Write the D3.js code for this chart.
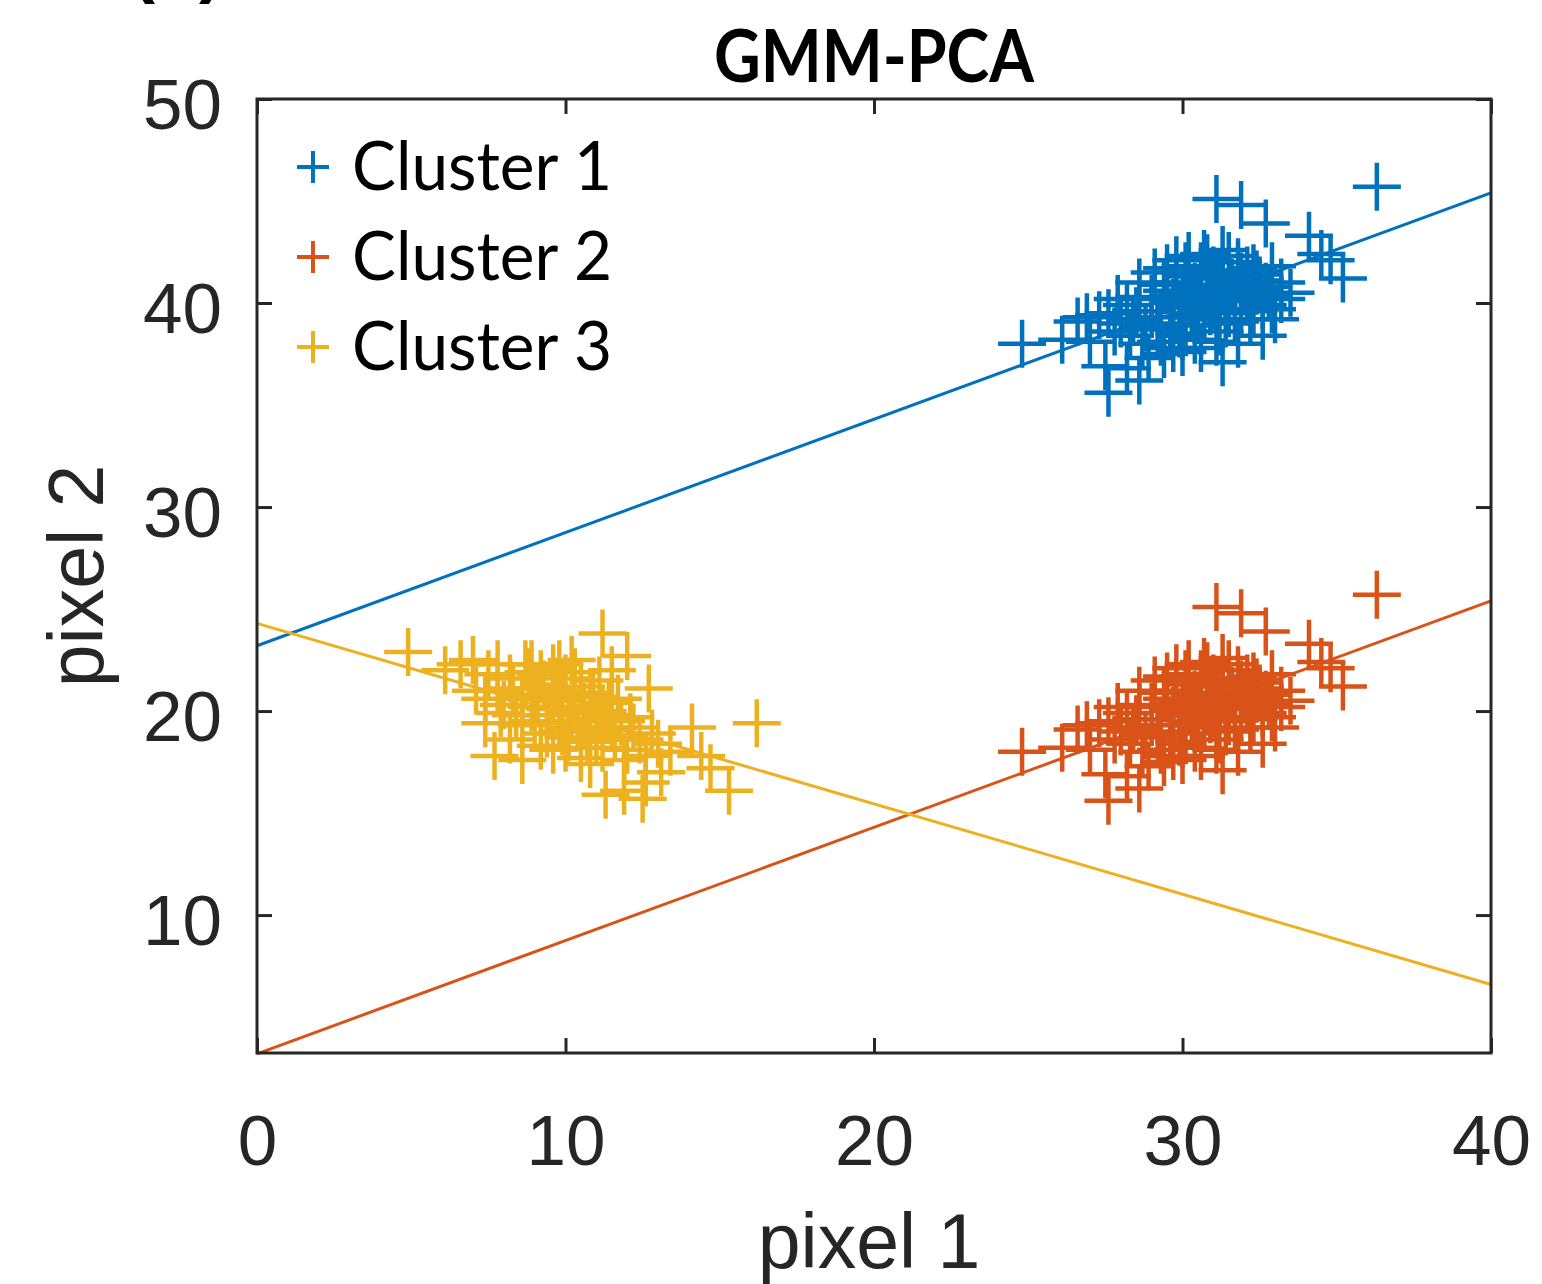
<!DOCTYPE html>
<html>
<head>
<meta charset="utf-8">
<script src="https://cdn.jsdelivr.net/npm/d3@7"></script>
<style>
  body { margin: 0; background: #fff; }
  svg { display: block; }
</style>
</head>
<body>
<svg></svg>
<script>
const w = 1542
const h = 1284
const svg = d3.select("svg")
svg.attr('width', w).attr('height', h)

// data
const seriesNames = ['Cluster 1', 'Cluster 2', 'Cluster 3']
const seriesColors = ['#0072BD', '#D95319', '#EDB120']
const xTicks = [0, 10, 20, 30, 40]
const yTicks = [10, 20, 30, 40, 50]

const cluster1 = [
    [24.8, 38.0], [26.1, 38.2], [26.6, 39.1], [26.9, 39.3], [27.0, 38.1], [27.6, 39.5], [27.6, 35.6], [27.9, 40.2],
    [28.2, 36.8], [28.6, 41.0], [28.6, 36.2], [29.5, 41.7], [29.7, 37.8], [29.8, 42.1], [30.0, 38.4], [30.2, 41.5],
    [30.6, 37.8], [30.7, 42.4], [31.1, 45.1], [31.3, 42.6], [31.3, 37.1], [31.9, 44.8], [31.8, 38.0], [32.3, 41.7],
    [32.6, 38.4], [32.7, 43.9], [32.9, 39.7], [33.2, 40.2], [32.7, 40.8], [32.4, 41.4], [34.1, 43.3], [34.5, 42.4],
    [34.8, 42.1], [35.2, 41.2], [36.3, 45.7], [27.5, 36.9],
    [28.0, 39.0], [28.3, 38.4], [28.5, 39.6], [28.8, 38.8], [29.0, 40.2], [29.2, 39.3], [29.3, 38.1], [29.5, 40.6],
    [29.6, 39.0], [29.8, 41.0], [29.9, 39.8], [30.0, 40.4], [30.1, 38.9], [30.2, 41.3], [30.3, 39.5], [30.4, 40.8],
    [30.5, 40.0], [30.6, 41.8], [30.7, 39.2], [30.8, 40.5], [30.9, 41.2], [31.0, 39.9], [31.1, 40.7], [31.2, 38.6],
    [31.3, 41.5], [31.4, 40.2], [31.5, 39.5], [31.6, 41.0], [31.7, 40.4], [31.8, 42.0], [31.9, 39.7], [32.0, 40.9],
    [32.1, 41.6], [32.2, 39.2], [32.4, 40.6], [32.5, 41.1], [32.6, 39.9], [28.6, 40.3], [29.1, 41.5], [27.8, 38.6],
    [28.2, 39.9], [30.0, 37.6], [30.8, 42.2], [31.5, 42.3], [29.4, 37.5], [33.5, 40.5], [33.2, 41.0], [27.3, 39.4],
    [28.9, 37.3], [32.9, 41.8],
    [29.0, 39.6], [29.4, 40.9], [29.7, 40.0], [30.1, 41.8], [30.3, 40.2], [30.5, 39.3], [30.6, 40.9], [30.9, 39.6],
    [31.0, 41.6], [31.2, 40.1], [31.4, 39.0], [31.6, 40.6], [31.9, 41.3], [32.1, 40.3], [32.3, 39.6], [29.9, 38.5],
    [30.4, 38.2], [31.1, 38.1], [28.4, 39.2], [28.7, 38.0], [29.2, 38.7], [32.8, 40.4], [33.0, 39.2], [31.7, 39.1],
    [30.2, 42.3]
]

const cluster2 = [
    [24.8, 18.0], [26.1, 18.2], [26.6, 19.1], [26.9, 19.3], [27.0, 18.1], [27.6, 19.5], [27.6, 15.6], [27.9, 20.2],
    [28.2, 16.8], [28.6, 21.0], [28.6, 16.2], [29.5, 21.7], [29.7, 17.8], [29.8, 22.1], [30.0, 18.4], [30.2, 21.5],
    [30.6, 17.8], [30.7, 22.4], [31.1, 25.1], [31.3, 22.6], [31.3, 17.1], [31.9, 24.8], [31.8, 18.0], [32.3, 21.7],
    [32.6, 18.4], [32.7, 23.9], [32.9, 19.7], [33.2, 20.2], [32.7, 20.8], [32.4, 21.4], [34.1, 23.3], [34.5, 22.4],
    [34.8, 22.1], [35.2, 21.2], [36.3, 25.7], [27.5, 16.9],
    [28.0, 19.0], [28.3, 18.4], [28.5, 19.6], [28.8, 18.8], [29.0, 20.2], [29.2, 19.3], [29.3, 18.1], [29.5, 20.6],
    [29.6, 19.0], [29.8, 21.0], [29.9, 19.8], [30.0, 20.4], [30.1, 18.9], [30.2, 21.3], [30.3, 19.5], [30.4, 20.8],
    [30.5, 20.0], [30.6, 21.8], [30.7, 19.2], [30.8, 20.5], [30.9, 21.2], [31.0, 19.9], [31.1, 20.7], [31.2, 18.6],
    [31.3, 21.5], [31.4, 20.2], [31.5, 19.5], [31.6, 21.0], [31.7, 20.4], [31.8, 22.0], [31.9, 19.7], [32.0, 20.9],
    [32.1, 21.6], [32.2, 19.2], [32.4, 20.6], [32.5, 21.1], [32.6, 19.9], [28.6, 20.3], [29.1, 21.5], [27.8, 18.6],
    [28.2, 19.9], [30.0, 17.6], [30.8, 22.2], [31.5, 22.3], [29.4, 17.5], [33.5, 20.5], [33.2, 21.0], [27.3, 19.4],
    [28.9, 17.3], [32.9, 21.8],
    [29.0, 19.6], [29.4, 20.9], [29.7, 20.0], [30.1, 21.8], [30.3, 20.2], [30.5, 19.3], [30.6, 20.9], [30.9, 19.6],
    [31.0, 21.6], [31.2, 20.1], [31.4, 19.0], [31.6, 20.6], [31.9, 21.3], [32.1, 20.3], [32.3, 19.6], [29.9, 18.5],
    [30.4, 18.2], [31.1, 18.1], [28.4, 19.2], [28.7, 18.0], [29.2, 18.7], [32.8, 20.4], [33.0, 19.2], [31.7, 19.1],
    [30.2, 22.3]
]

const cluster3 = [
    [4.9, 22.9], [6.1, 22.0], [6.6, 22.3], [7.0, 22.5], [7.5, 21.8], [7.8, 22.3], [8.7, 22.3], [9.6, 22.1],
    [9.8, 22.3], [11.2, 23.8], [12.0, 22.7], [12.7, 21.1], [14.1, 19.2], [16.2, 19.4], [14.4, 17.8], [14.7, 17.2],
    [15.3, 16.1], [7.7, 17.8], [8.6, 17.6], [9.6, 18.1], [11.3, 15.9], [11.9, 16.1], [12.5, 15.7], [10.8, 17.4],
    [12.6, 16.5], [13.1, 17.0], [8.2, 18.6], [7.4, 19.4], [7.1, 21.0],
    [7.8, 21.0], [8.0, 20.3], [8.2, 21.6], [8.4, 19.8], [8.6, 20.8], [8.8, 21.9], [9.0, 19.5], [9.1, 20.6],
    [9.3, 21.3], [9.4, 18.9], [9.5, 20.1], [9.7, 21.0], [9.8, 19.4], [9.9, 20.5], [10.0, 21.6], [10.1, 18.7],
    [10.2, 19.9], [10.3, 20.8], [10.4, 19.2], [10.5, 21.2], [10.6, 20.2], [10.7, 18.5], [10.8, 19.6], [10.9, 20.7],
    [11.0, 19.0], [11.1, 21.5], [11.2, 18.2], [11.3, 19.8], [11.4, 20.4], [11.6, 18.8], [11.8, 19.5], [12.0, 18.1],
    [12.2, 19.2], [12.4, 18.6], [12.6, 17.8], [12.8, 18.9], [13.0, 18.4], [8.9, 22.3], [10.2, 22.5], [11.5, 22.0],
    [7.4, 20.6], [9.2, 18.3], [13.4, 18.0], [10.5, 17.7],
    [8.3, 21.1], [8.6, 19.3], [8.9, 20.2], [9.2, 21.8], [9.4, 19.8], [9.6, 20.7], [9.9, 19.0], [10.1, 20.1],
    [10.3, 21.9], [10.6, 19.5], [10.8, 20.9], [11.0, 18.6], [11.2, 20.0], [11.5, 19.2], [11.7, 20.6], [12.1, 19.7],
    [9.0, 21.1], [10.0, 18.2], [11.9, 17.6], [7.9, 19.9]
]

// principal axis lines (end points at x = 0 and x = 40)
const fit1 = [[0, 23.2], [40, 45.4]]
const fit2 = [[0, 3.2], [40, 25.4]]
const fit3 = [[0, 24.3], [40, 6.6]]

const clusters = [cluster1, cluster2, cluster3]
const fits = [fit1, fit2, fit3]

// plot box
const boxLeft = 257
const boxRight = 1491
const boxTop = 99
const boxBottom = 1053
const axisColor = '#262626'

const x = d3.scaleLinear().domain([0, 40]).range([boxLeft, boxRight])
const y = d3.scaleLinear().domain([3.24, 50]).range([boxBottom, boxTop])

const tickFont = '"Liberation Sans", Arial, sans-serif'

// panel letter, mostly cut off by the top edge (as in the source figure)
svg.append('text')
    .attr('x', 131)
    .attr('y', -11)
    .style('font-family', tickFont)
    .style('font-weight', 'bold')
    .style('font-size', '72px')
    .attr('fill', '#000')
    .text('(b)')

// axes, ticks pointing inward
const gx = svg.append('g')
    .attr('transform', `translate(0, ${boxBottom})`)
    .call(d3.axisBottom(x).tickValues(xTicks).tickSizeInner(-15).tickSizeOuter(0).tickPadding(62))
const gxTop = svg.append('g')
    .attr('transform', `translate(0, ${boxTop})`)
    .call(d3.axisTop(x).tickValues(xTicks).tickSizeInner(-15).tickSizeOuter(0).tickFormat(''))
const gy = svg.append('g')
    .attr('transform', `translate(${boxLeft}, 0)`)
    .call(d3.axisLeft(y).tickValues(yTicks).tickSizeInner(-15).tickSizeOuter(0).tickPadding(35))
const gyRight = svg.append('g')
    .attr('transform', `translate(${boxRight}, 0)`)
    .call(d3.axisRight(y).tickValues(yTicks).tickSizeInner(-15).tickSizeOuter(0).tickFormat(''))

for (const g of [gx, gxTop, gy, gyRight]) {
    g.select('.domain').remove()
    g.selectAll('.tick line').attr('stroke', axisColor).attr('stroke-width', 3)
    g.selectAll('.tick text')
        .attr('fill', axisColor)
        .style('font-family', tickFont)
        .style('font-size', '71px')
}
gy.selectAll('.tick text').attr('dy', '0.42em')

// fit lines
const line = d3.line().x(d => x(d[0])).y(d => y(d[1]))
svg.append('g')
    .selectAll('path')
    .data(fits)
    .enter()
    .append('path')
    .attr('d', line)
    .attr('fill', 'none')
    .attr('stroke', (d, i) => seriesColors[i])
    .attr('stroke-width', 3)

// crosses
const arm = 24
const plus = (cx, cy, a) => `M${cx - a},${cy}H${cx + a}M${cx},${cy - a}V${cy + a}`
clusters.forEach((pts, i) => {
    svg.append('g')
        .attr('class', 'cluster')
        .selectAll('path')
        .data(pts)
        .enter()
        .append('path')
        .attr('d', d => plus(x(d[0]), y(d[1]), arm))
        .attr('fill', 'none')
        .attr('stroke', seriesColors[i])
        .attr('stroke-width', 4.5)
})

// frame
svg.append('rect')
    .attr('x', boxLeft)
    .attr('y', boxTop)
    .attr('width', boxRight - boxLeft)
    .attr('height', boxBottom - boxTop)
    .attr('fill', 'none')
    .attr('stroke', axisColor)
    .attr('stroke-width', 3)

// legend
const legend = svg.append('g')
seriesNames.forEach((name, i) => {
    const ly = 167 + i * 90
    legend.append('path')
        .attr('d', plus(313, ly, 16))
        .attr('stroke', seriesColors[i])
        .attr('stroke-width', 4)
    legend.append('text')
        .attr('x', 352)
        .attr('y', ly + 23)
        .attr('textLength', 260)
        .attr('lengthAdjust', 'spacingAndGlyphs')
        .style('font-family', 'Lato, "Open Sans", sans-serif')
        .style('font-size', '67px')
        .attr('fill', '#000')
        .text(name)
})

// title
svg.append('text')
    .attr('x', (boxLeft + boxRight) / 2)
    .attr('y', 82)
    .attr('text-anchor', 'middle')
    .attr('textLength', 320)
    .attr('lengthAdjust', 'spacingAndGlyphs')
    .style('font-family', 'Lato, "Open Sans", sans-serif')
    .style('font-weight', 'bold')
    .style('font-size', '72px')
    .attr('fill', '#000')
    .text('GMM-PCA')

// axis labels
svg.append('text')
    .attr('x', (boxLeft + boxRight) / 2 - 5)
    .attr('y', 1268)
    .attr('text-anchor', 'middle')
    .style('font-family', tickFont)
    .style('font-size', '77px')
    .attr('fill', axisColor)
    .text('pixel 1')

svg.append('text')
    .attr('transform', `translate(103, ${(boxTop + boxBottom) / 2}) rotate(-90)`)
    .attr('text-anchor', 'middle')
    .style('font-family', tickFont)
    .style('font-size', '77px')
    .attr('fill', axisColor)
    .text('pixel 2')
</script>
</body>
</html>
